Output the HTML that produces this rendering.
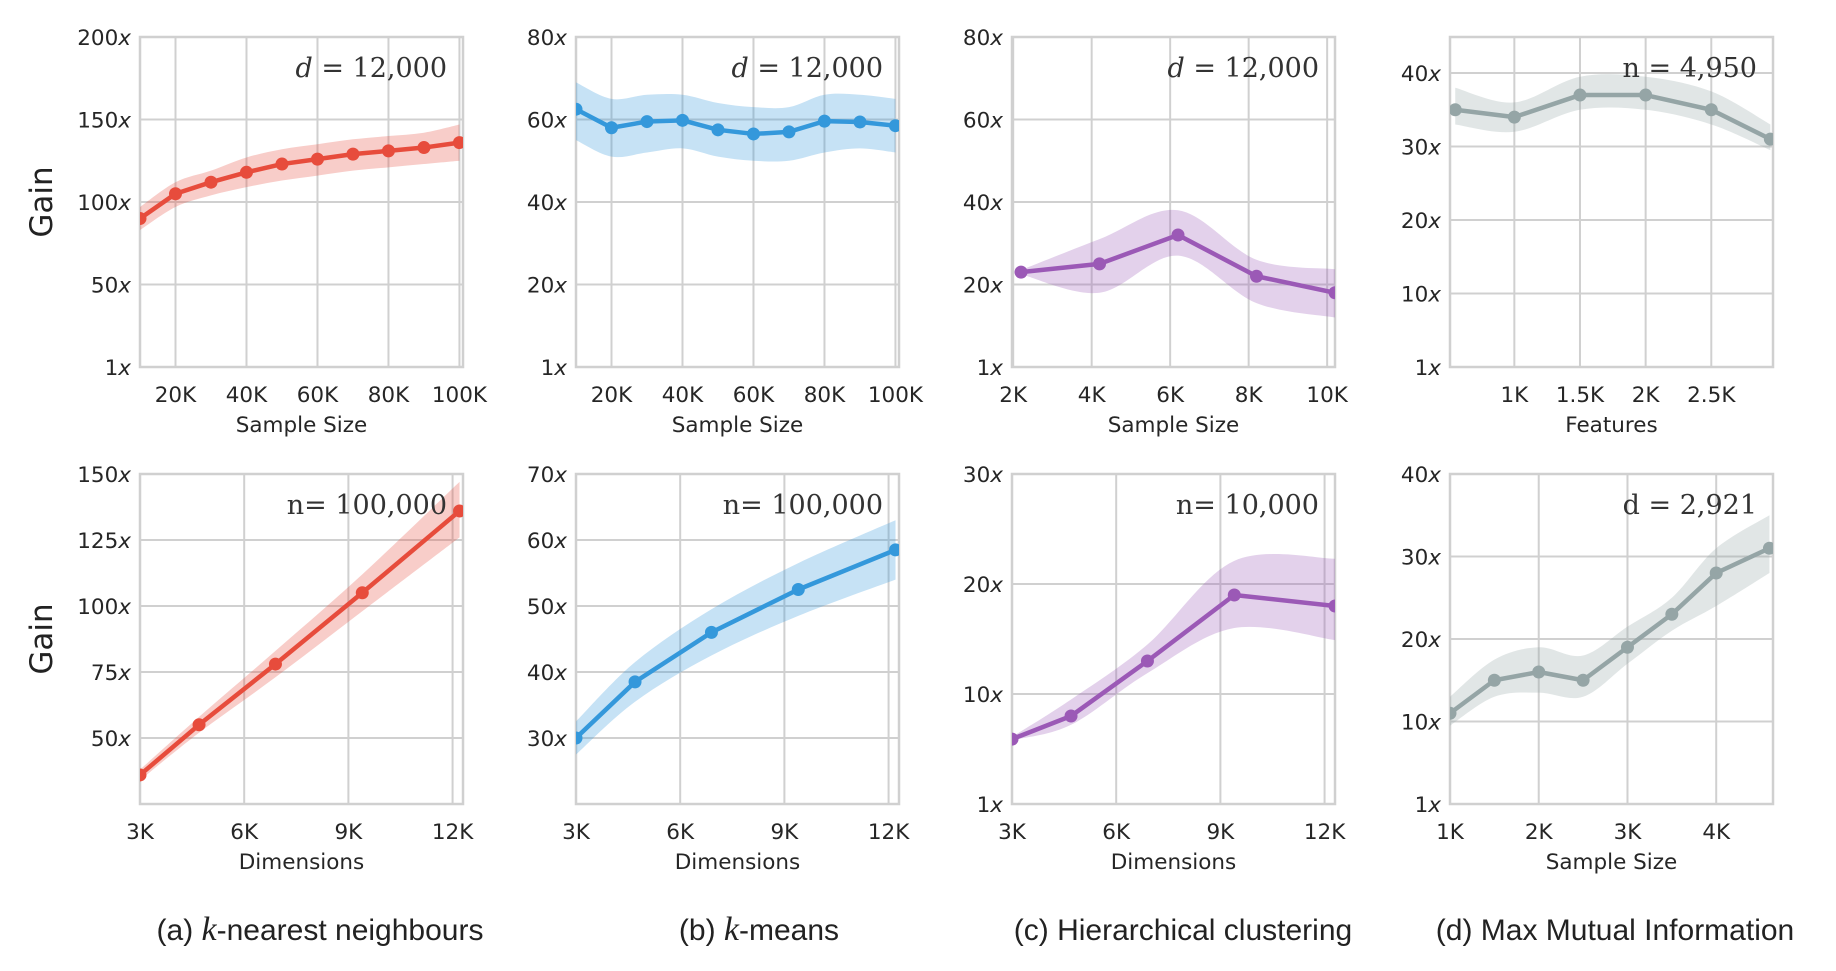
<!DOCTYPE html>
<html><head><meta charset="utf-8"><style>
html,body{margin:0;padding:0;background:#fff;}
svg{display:block;}
.tk{font-family:"DejaVu Sans","Liberation Sans",sans-serif;font-size:21.5px;fill:#262626;}
.at{font-family:"DejaVu Sans","Liberation Sans",sans-serif;font-size:21.5px;fill:#262626;}
.an{font-family:"DejaVu Serif","Liberation Serif",serif;font-size:27px;fill:#333;}
.cap{font-family:"Liberation Sans","DejaVu Sans",sans-serif;font-size:30px;fill:#222;}
.gain{font-family:"DejaVu Sans","Liberation Sans",sans-serif;font-size:31px;fill:#222;}
</style></head><body>
<svg id="fig" width="1836" height="971" viewBox="0 0 1836 971" xmlns="http://www.w3.org/2000/svg"></svg>
<script>
// ---- data ----
const knnSizeX=[10,20,30,40,50,60,70,80,90,100];
const knnSizeY=[90,105,112,118,123,126,129,131,133,136];
const knnSizeLo=[83,97,104,109,113,116,119,121,123,125];
const knnSizeHi=[97,112,119,127,132,135,138,140,142,147];
const kmSizeX=[10,20,30,40,50,60,70,80,90,100];
const kmSizeY=[62.5,58,59.5,59.8,57.5,56.5,57,59.6,59.4,58.5];
const kmSizeLo=[55,51,52,53,51,50,50,52,53,52];
const kmSizeHi=[69,65,66,66,64,63,63,66,66,65];
const hcSizeX=[2.2,4.2,6.2,8.2,10.2];
const hcSizeY=[23,25,32,22,18];
const hcSizeLo=[22.5,18,27,15.5,12];
const hcSizeHi=[23.5,31,38,26,23.7];
const mmiFeatX=[0.55,1,1.5,2,2.5,2.95];
const mmiFeatY=[35,34,37,37,35,31];
const mmiFeatLo=[33,32,35,35,33,29.5];
const mmiFeatHi=[38,36,39.5,39.5,37.5,33];
const knnDimX=[3,4.7,6.9,9.4,12.2];
const knnDimY=[36,55,78,105,136];
const knnDimLo=[34,52,73,98,126];
const knnDimHi=[38,58,83,112,147];
const kmDimX=[3,4.7,6.9,9.4,12.2];
const kmDimY=[30,38.5,46,52.5,58.5];
const kmDimLo=[27.5,35.5,42.5,48.5,54];
const kmDimHi=[32.5,41.5,49.5,56.5,63];
const hcDimX=[3,4.7,6.9,9.4,12.3];
const hcDimY=[5.9,8,13,19,18];
const hcDimLo=[5.8,7.2,11.9,16,14.9];
const hcDimHi=[6.1,9.5,14.5,22.1,22.3];
const mmiSizeX=[1,1.5,2,2.5,3,3.5,4,4.6];
const mmiSizeY=[11,15,16,15,19,23,28,31];
const mmiSizeLo=[9.5,13,13.5,13,17,21,24,28];
const mmiSizeHi=[13,17.5,19,18,21.5,25,31,35];
// ticks
const xTicksSize=[20,40,60,80,100];
const xLabelsSize=["20K","40K","60K","80K","100K"];
const xTicksHc=[2,4,6,8,10];
const xLabelsHc=["2K","4K","6K","8K","10K"];
const xTicksFeat=[1,1.5,2,2.5];
const xLabelsFeat=["1K","1.5K","2K","2.5K"];
const xTicksDim=[3,6,9,12];
const xLabelsDim=["3K","6K","9K","12K"];
const xTicksMmi=[1,2,3,4];
const xLabelsMmi=["1K","2K","3K","4K"];
const yTicks200=[0,50,100,150,200]; const yLab200=["1","50","100","150","200"];
const yTicks80=[0,20,40,60,80]; const yLab80=["1","20","40","60","80"];
const yTicks40=[0,10,20,30,40]; const yLab40=["1","10","20","30","40"];
const yTicks150=[50,75,100,125,150]; const yLab150=["50","75","100","125","150"];
const yTicks70=[30,40,50,60,70]; const yLab70=["30","40","50","60","70"];
const yTicks30=[0,10,20,30]; const yLab30=["1","10","20","30"];

const NS="http://www.w3.org/2000/svg";
const svg=document.getElementById('fig');
function mk(tag,attrs,parent){const e=document.createElementNS(NS,tag);for(const k in attrs)e.setAttribute(k,attrs[k]);(parent||svg).appendChild(e);return e;}
const colL=[140,576,1012,1450], W=323;
const rowT=[37,474], H=330;
function smooth(pts){let d="M"+pts[0][0]+","+pts[0][1];for(let i=0;i<pts.length-1;i++){const p0=pts[Math.max(i-1,0)],p1=pts[i],p2=pts[i+1],p3=pts[Math.min(i+2,pts.length-1)];const c1=[p1[0]+(p2[0]-p0[0])/6,p1[1]+(p2[1]-p0[1])/6],c2=[p2[0]-(p3[0]-p1[0])/6,p2[1]-(p3[1]-p1[1])/6];d+=" C"+c1[0]+","+c1[1]+" "+c2[0]+","+c2[1]+" "+p2[0]+","+p2[1];}return d;}
function panel(o){
  const L=colL[o.c],T=rowT[o.r],R=L+W,B=T+H;
  const g=mk('g',{});
  
  
  const sx=v=>L+(v-o.xd[0])/(o.xd[1]-o.xd[0])*W;
  const sy=v=>B-(v-o.yd[0])/(o.yd[1]-o.yd[0])*H;
  const clipId='clip'+o.r+o.c;
  const cp=mk('clipPath',{id:clipId},g);mk('rect',{x:L,y:T,width:W,height:H},cp);
  o.xt.forEach((v,i)=>{const x=sx(v);
    const gl=mk('line',{x1:x,x2:x,y1:T,y2:B,stroke:'#d0d0d0','stroke-width':2},g);
    
    
    const t=mk('text',{x:x,y:B+35,'text-anchor':'middle',class:'tk'},g);t.textContent=o.xl[i];
    
    
  });
  o.yt.forEach((v,i)=>{const y=sy(v);
    const gl=mk('line',{x1:L,x2:R,y1:y,y2:y,stroke:'#d0d0d0','stroke-width':2},g);
    
    
    const t=mk('text',{x:L-9,y:y+8,'text-anchor':'end',class:'tk'},g);
    t.innerHTML=o.yl[i]+'<tspan font-style="italic">x</tspan>';
    
    
  });
  const fr=mk('rect',{x:L,y:T,width:W,height:H,fill:'none',stroke:'#d0d0d0','stroke-width':2.5},g);
  
  
  const cg=mk('g',{'clip-path':'url(#'+clipId+')'},g);
  const hi=o.x.map((v,i)=>[sx(v),sy(o.hi[i])]);
  const lo=o.x.map((v,i)=>[sx(v),sy(o.lo[i])]).reverse();
  const ls=smooth(lo);
  let d=smooth(hi); d+=" L"+lo[0][0]+","+lo[0][1]+ls.slice(ls.indexOf(' C'))+" Z";
  const band=mk('path',{d:d,fill:o.col,'fill-opacity':0.28,stroke:'none'},cg);
  
  
  const ln=mk('polyline',{points:o.x.map((v,i)=>sx(v)+','+sy(o.y[i])).join(' '),fill:'none',stroke:o.col,'stroke-width':4.5,'stroke-linejoin':'round'},cg);
  
  
  o.x.forEach((v,i)=>{const c=mk('circle',{cx:sx(v),cy:sy(o.y[i]),r:6.5,fill:o.col},cg);
    
    
  });
  const an=mk('text',{x:R-16,y:T+40,'text-anchor':'end',class:'an'},g);an.innerHTML=o.ann;
  
  
  const xt=mk('text',{x:(L+R)/2,y:B+65,'text-anchor':'middle',class:'at'},g);xt.textContent=o.xlab;
  
  
}
const RED='#e74c3c',BLUE='#3498db',PUR='#9b59b6',GRY='#95a5a6';
const dIt='<tspan font-style="italic">d</tspan> = 12,000';
panel({name:'knn-sample-size-panel',r:0,c:0,x:knnSizeX,y:knnSizeY,lo:knnSizeLo,hi:knnSizeHi,xd:[10,101],yd:[0,200],xt:xTicksSize,xl:xLabelsSize,yt:yTicks200,yl:yLab200,col:RED,ann:dIt,xlab:'Sample Size'});
panel({name:'kmeans-sample-size-panel',r:0,c:1,x:kmSizeX,y:kmSizeY,lo:kmSizeLo,hi:kmSizeHi,xd:[10,101],yd:[0,80],xt:xTicksSize,xl:xLabelsSize,yt:yTicks80,yl:yLab80,col:BLUE,ann:dIt,xlab:'Sample Size'});
panel({name:'hc-sample-size-panel',r:0,c:2,x:hcSizeX,y:hcSizeY,lo:hcSizeLo,hi:hcSizeHi,xd:[1.97,10.2],yd:[0,80],xt:xTicksHc,xl:xLabelsHc,yt:yTicks80,yl:yLab80,col:PUR,ann:dIt,xlab:'Sample Size'});
panel({name:'mmi-features-panel',r:0,c:3,x:mmiFeatX,y:mmiFeatY,lo:mmiFeatLo,hi:mmiFeatHi,xd:[0.51,2.97],yd:[0,44.9],xt:xTicksFeat,xl:xLabelsFeat,yt:yTicks40,yl:yLab40,col:GRY,ann:'n = 4,950',xlab:'Features'});
panel({name:'knn-dimensions-panel',r:1,c:0,x:knnDimX,y:knnDimY,lo:knnDimLo,hi:knnDimHi,xd:[3,12.3],yd:[25,150],xt:xTicksDim,xl:xLabelsDim,yt:yTicks150,yl:yLab150,col:RED,ann:'n= 100,000',xlab:'Dimensions'});
panel({name:'kmeans-dimensions-panel',r:1,c:1,x:kmDimX,y:kmDimY,lo:kmDimLo,hi:kmDimHi,xd:[3,12.3],yd:[20,70],xt:xTicksDim,xl:xLabelsDim,yt:yTicks70,yl:yLab70,col:BLUE,ann:'n= 100,000',xlab:'Dimensions'});
panel({name:'hc-dimensions-panel',r:1,c:2,x:hcDimX,y:hcDimY,lo:hcDimLo,hi:hcDimHi,xd:[3,12.3],yd:[0,30],xt:xTicksDim,xl:xLabelsDim,yt:yTicks30,yl:yLab30,col:PUR,ann:'n= 10,000',xlab:'Dimensions'});
panel({name:'mmi-sample-size-panel',r:1,c:3,x:mmiSizeX,y:mmiSizeY,lo:mmiSizeLo,hi:mmiSizeHi,xd:[1,4.64],yd:[0,40],xt:xTicksMmi,xl:xLabelsMmi,yt:yTicks40,yl:yLab40,col:GRY,ann:'d = 2,921',xlab:'Sample Size'});
// Gain labels
[202,639].forEach(cy=>{const t=mk('text',{x:0,y:0,'text-anchor':'middle',class:'gain',transform:'translate(52,'+cy+') rotate(-90)'});t.textContent='Gain';
  
  
});
const caps=['(a) <tspan font-family="Liberation Serif" font-style="italic" font-size="34">k</tspan>-nearest neighbours','(b) <tspan font-family="Liberation Serif" font-style="italic" font-size="34">k</tspan>-means','(c) Hierarchical clustering','(d) Max Mutual Information'];
const capX=[320,759,1183,1615];
caps.forEach((c,i)=>{const t=mk('text',{x:capX[i],y:940,'text-anchor':'middle',class:'cap'});t.innerHTML=c;
  
  
});
</script>
</body></html>
